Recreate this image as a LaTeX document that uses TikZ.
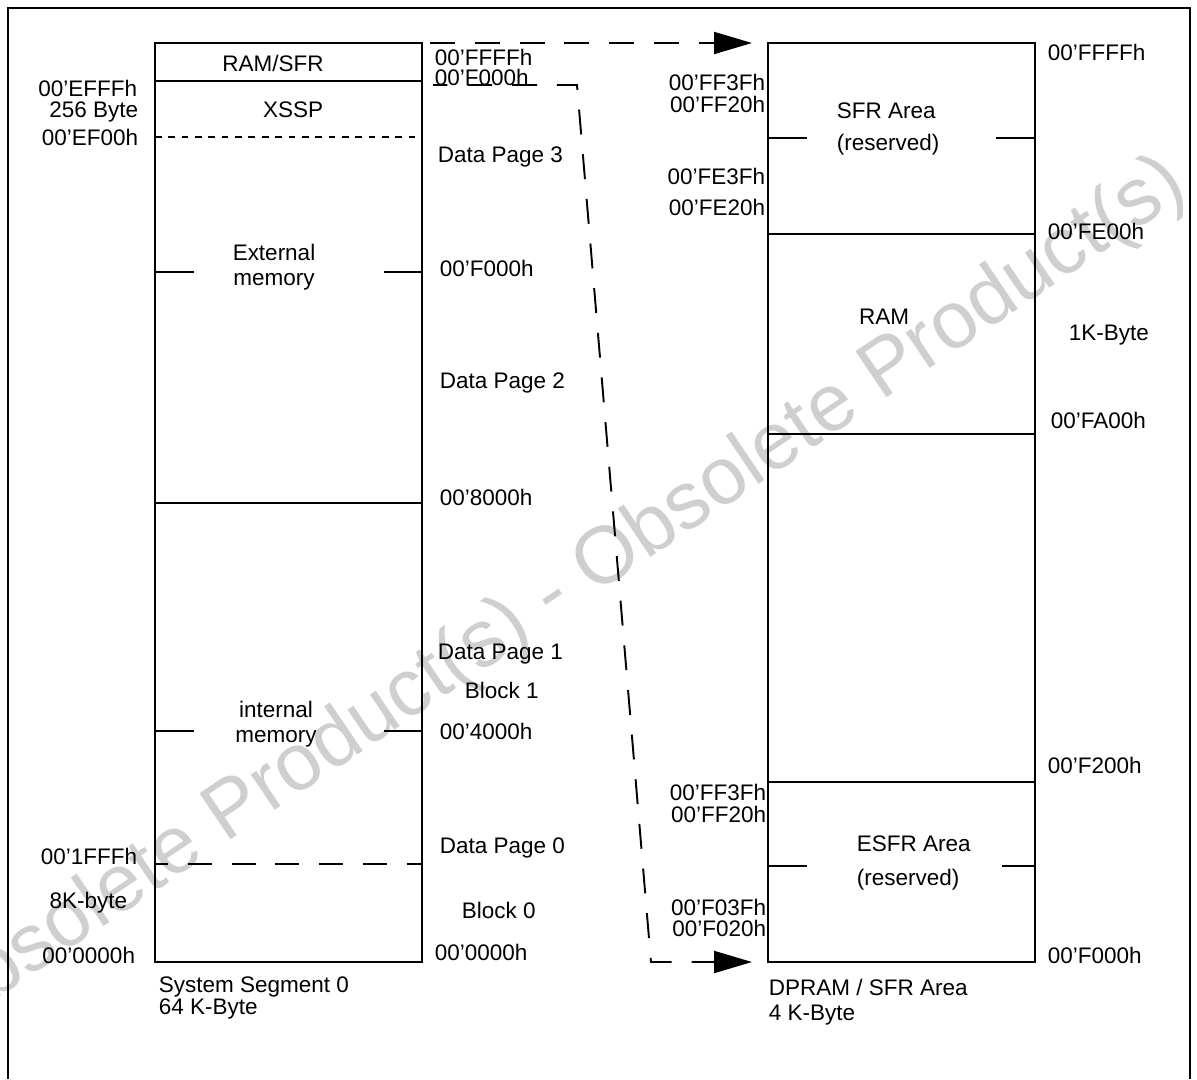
\documentclass[tikz,border=0pt]{standalone}
\usepackage{fontspec}
\setmainfont{Liberation Sans}
\usetikzlibrary{arrows.meta,positioning}

\begin{document}
\begin{tikzpicture}[
x=0.02cm, y=-0.02cm,
line width=1.1pt,
lblm/.style={font=\fontsize{12.8}{14}\selectfont, inner sep=0pt},
lbl/.style={lblm, text height=9.16pt, text depth=0pt},
lblr/.style={lbl, anchor=east},
lbll/.style={lbl, anchor=west},
dotline/.style={dash pattern=on 3.8pt off 3.8pt},
dashline/.style={dash pattern=on 13.6pt off 11.3pt, dash phase=6.2pt},
link/.style={dash pattern=on 14.2pt off 11.3pt},
arrow/.style={-{Triangle[length=0.76cm,width=0.44cm]}}
]
\useasboundingbox (0,0) rectangle (1197,1079);

% watermark
\node[rotate=34, text=black!19, font=\fontsize{46}{46}\selectfont, inner sep=0pt] (wm) at (553,598) {Obsolete Product(s) - Obsolete Product(s)};

% frame
\draw (8,1079) -- (8,8) -- (1190,8) -- (1190,1079);

% system segment 0
\draw (155,43) rectangle (422,962);
\draw (155,81) -- (422,81);
\draw[dotline] (155,137) -- (422,137);
\draw (155,503) -- (422,503);
\draw[dashline] (155,864) -- (422,864);
\draw (155,272) -- (194,272) (384,272) -- (422,272);
\draw (155,731) -- (194,731) (384,731) -- (422,731);

\node[lbl] (ramsfr) at (273,63) {RAM/SFR};
\node[lbl] (xssp) at (293,109) {XSSP};
\node[lblm, align=center] (extmem) at (274,267) {External\\memory};
\node[lblm, align=center] (intmem) at (276,724) {internal\\memory};

\node[lblr] (efff) at (138,88) {00’EFFFh};
\node[lblr] (b256) at (139,109) {256 Byte};
\node[lblr] (ef00) at (139,137) {00’EF00h};
\node[lblr] (s1fff) at (138,856) {00’1FFFh};
\node[lblr] (k8) at (128,900) {8K-byte};
\node[lblr] (s0000) at (136,955) {00’0000h};

\node[lbll] (mffff) at (434,57) {00’FFFFh};
\node[lbll] (mf000) at (434,77) {00’F000h};
\node[lbll] (dp3) at (437,154) {Data Page 3};
\node[lbll] (pf000) at (439,268) {00’F000h};
\node[lbll] (dp2) at (439,380) {Data Page 2};
\node[lbll] (p8000) at (439,497) {00’8000h};
\node[lbll] (dp1) at (437,651) {Data Page 1};
\node[lbll] (blk1) at (464,690) {Block 1};
\node[lbll] (p4000) at (439,731) {00’4000h};
\node[lbll] (dp0) at (439,845) {Data Page 0};
\node[lbll] (blk0) at (461,910) {Block 0};
\node[lbll] (p0000) at (434,952) {00’0000h};

\node[lblm, align=left, anchor=west] (sysseg) at (158,998) {System Segment 0\\[-1.5pt]64 K-Byte};

% DPRAM / SFR area
\draw (768,43) rectangle (1035,962);
\draw (768,234) -- (1035,234);
\draw (768,434) -- (1035,434);
\draw (768,782) -- (1035,782);
\draw (768,138) -- (807,138) (996,138) -- (1035,138);
\draw (768,866) -- (807,866) (1002,866) -- (1035,866);

\node[lblm, align=left, anchor=west] (sfr) at (836,129) {SFR Area\\[4pt](reserved)};
\node[lblm, align=left, anchor=west] (esfr) at (856,863) {ESFR Area\\[5.3pt](reserved)};
\node[lbl] (ram) at (884,316) {RAM};

\node[lblr] (ff3fa) at (766,82) {00’FF3Fh};
\node[lblr] (ff20a) at (766,104) {00’FF20h};
\node[lblr] (fe3f) at (766,176) {00’FE3Fh};
\node[lblr] (fe20) at (766,207) {00’FE20h};
\node[lblr] (ff3fb) at (767,792) {00’FF3Fh};
\node[lblr] (ff20b) at (767,814) {00’FF20h};
\node[lblr] (f03f) at (767,907) {00’F03Fh};
\node[lblr] (f020) at (767,928) {00’F020h};

\node[lbll] (rffff) at (1047,52) {00’FFFFh};
\node[lbll] (rfe00) at (1047,231) {00’FE00h};
\node[lbll] (k1) at (1068,332) {1K-Byte};
\node[lbll] (rfa00) at (1050,420) {00’FA00h};
\node[lbll] (rf200) at (1047,765) {00’F200h};
\node[lbll] (rf000) at (1047,955) {00’F000h};

\node[lblm, align=left, anchor=west] (dpram) at (768,1002) {DPRAM / SFR Area\\4 K-Byte};

% mapping connectors
\coordinate (topA) at (430,43);
\coordinate (topB) at (752,43);
\coordinate (lowA) at (433,85);
\coordinate (bendA) at (577,85);
\coordinate (bendB) at (651,962);
\coordinate (lowB) at (752,962);
\draw[link, arrow] (topA) -- (topB);
\draw[link, arrow, dash phase=6pt] (lowA) -- (bendA) -- (bendB) -- (lowB);
\end{tikzpicture}
\end{document}
